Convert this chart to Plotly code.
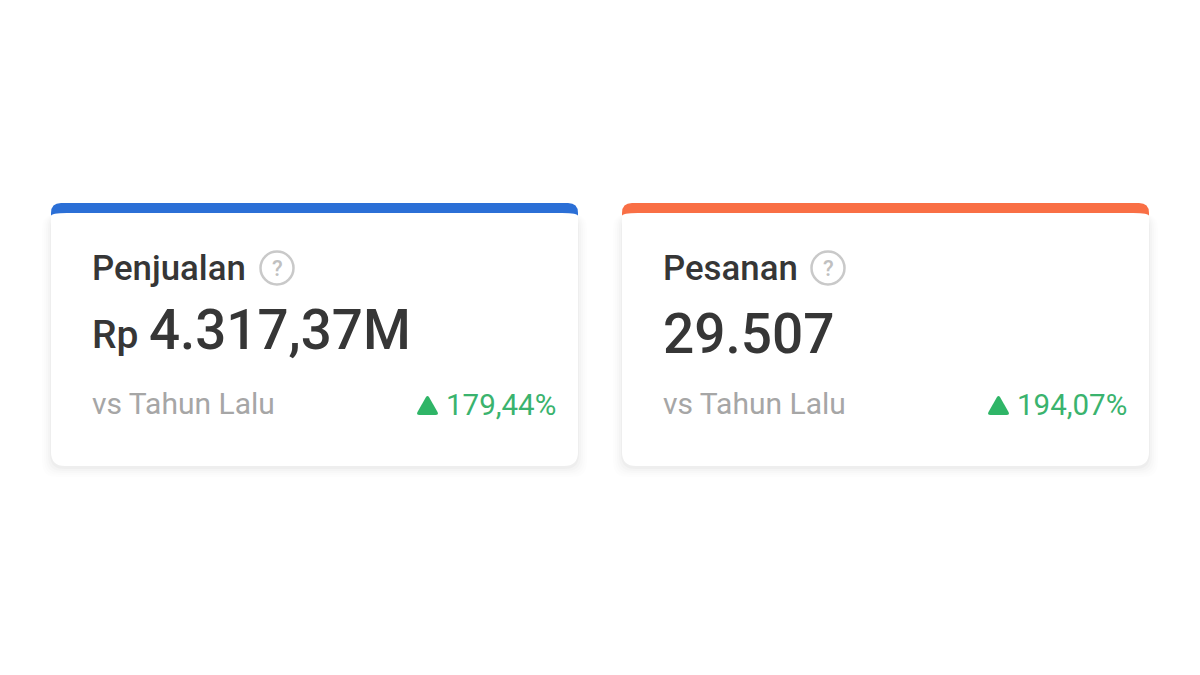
import plotly.graph_objects as go

# card contents
titles = ["Penjualan", "Pesanan"]
prefixes = ["Rp", ""]
values = ["4.317,37M", "29.507"]
compare_labels = ["vs Tahun Lalu", "vs Tahun Lalu"]
changes = ["179,44%", "194,07%"]
accent_colors = ["#2b6fd6", "#f96f45"]

CARD_LEFT = [51, 622]
CARD_WIDTH = 527
TOP = 203
BODY_TOP = 214
BOTTOM = 466
FONT = "Roboto"
DARK = "#363636"
GREY = "#a6a6a6"
GREEN = "#3ab36e"
ICON_GREEN = "#2fb567"


def rounded_rect(x0, y0, x1, y1, r, top_rx=None, top_ry=None):
    # top corners can be shallower than the bottom ones
    rx = r if top_rx is None else top_rx
    ry = r if top_ry is None else top_ry
    return (
        f"M{x0 + rx},{y0} L{x1 - rx},{y0} Q{x1},{y0} {x1},{y0 + ry} "
        f"L{x1},{y1 - r} Q{x1},{y1} {x1 - r},{y1} "
        f"L{x0 + r},{y1} Q{x0},{y1} {x0},{y1 - r} "
        f"L{x0},{y0 + ry} Q{x0},{y0} {x0 + rx},{y0} Z"
    )


def triangle(x0, x1, y_top, y_bottom):
    mid = (x0 + x1) / 2
    return (
        f"M{mid - 1.5},{y_top + 2} Q{mid},{y_top} {mid + 1.5},{y_top + 2} "
        f"L{x1 - 0.5},{y_bottom - 3} Q{x1 + 1},{y_bottom} {x1 - 2.5},{y_bottom} "
        f"L{x0 + 2.5},{y_bottom} Q{x0 - 1},{y_bottom} {x0 + 0.5},{y_bottom - 3} Z"
    )


def add_text(fig, x, y, text, size, color, anchor="left", weight=400):
    fig.add_annotation(
        x=x,
        y=y,
        text=text,
        showarrow=False,
        xanchor=anchor,
        yanchor="middle",
        font=dict(family=FONT, size=size, color=color, weight=weight),
    )


fig = go.Figure()

for i, left in enumerate(CARD_LEFT):
    right = left + CARD_WIDTH
    # soft shadow under the card
    for spread, alpha in [(9, 0.006), (7, 0.009), (5, 0.012), (3, 0.016), (1, 0.022)]:
        fig.add_shape(
            type="path",
            path=rounded_rect(left - spread, BODY_TOP, right + spread, BOTTOM + spread + 2, 14),
            fillcolor=f"rgba(0,0,0,{alpha})",
            line_width=0,
        )
    fig.add_shape(
        type="path",
        path=rounded_rect(left, TOP, right, BODY_TOP + 20, 10),
        fillcolor=accent_colors[i],
        line_width=0,
    )
    # top corners of the white body curve up into the accent band
    fig.add_shape(
        type="path",
        path=rounded_rect(left, BODY_TOP - 1, right, BOTTOM, 14, top_rx=16, top_ry=3),
        fillcolor="white",
        line_width=0,
    )

    text_x = left + 39
    add_text(fig, text_x, 268, titles[i], 34.8, DARK, weight=500)

    # help icon sits right after the title
    icon_x = left + (226 if i == 0 else 206)
    fig.add_shape(
        type="circle",
        x0=icon_x - 16.5,
        x1=icon_x + 16.5,
        y0=251.5,
        y1=284.5,
        line=dict(color="#c9c9c9", width=2.5),
        fillcolor="white",
    )
    add_text(fig, icon_x, 268, "?", 22, "#c0c0c0", anchor="center", weight=500)

    if prefixes[i]:
        add_text(fig, text_x, 335, prefixes[i], 39, DARK, weight=500)
        add_text(fig, text_x + 57, 330, values[i], 54.7, DARK, weight=500)
    else:
        add_text(fig, text_x, 334, values[i], 55, DARK, weight=500)

    add_text(fig, text_x, 403, compare_labels[i], 30, GREY)
    add_text(fig, right - 20, 405, changes[i], 29.5, GREEN, anchor="right")

    fig.add_shape(
        type="path",
        path=triangle(left + 366, left + 387, 395, 415),
        fillcolor=ICON_GREEN,
        line_width=0,
    )

fig.update_xaxes(range=[0, 1200], visible=False, fixedrange=True)
fig.update_yaxes(range=[675, 0], visible=False, fixedrange=True)
fig.update_layout(
    width=1200,
    height=675,
    margin=dict(l=0, r=0, t=0, b=0),
    plot_bgcolor="white",
    paper_bgcolor="white",
)
fig.write_html(
    "out.html",
    post_script="document.body.style.margin='0';",
    config={"displayModeBar": False},
)
